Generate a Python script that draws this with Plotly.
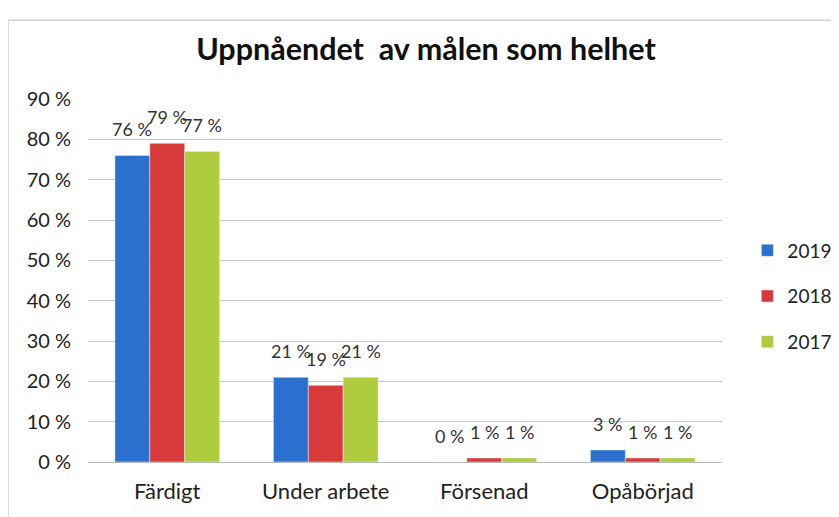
import plotly.graph_objects as go

categories = ["Färdigt", "Under arbete", "Försenad", "Opåbörjad"]
series_names = ["2019", "2018", "2017"]
values_2019 = [76, 21, 0, 3]
values_2018 = [79, 19, 1, 1]
values_2017 = [77, 21, 1, 1]
colors = ["#2b6fcf", "#d83a3c", "#afcb3e"]
y_ticks = [0, 10, 20, 30, 40, 50, 60, 70, 80, 90]
y_tick_labels = [f"{v} %" for v in y_ticks]

FONT = "Lato, 'Open Sans', sans-serif"
BAR_OFFSETS_PX = [-35, 0, 35]  # horizontal shift of labels for grouped bars

fig = go.Figure()
all_values = [values_2019, values_2018, values_2017]
for name, vals, col in zip(series_names, all_values, colors):
    fig.add_trace(go.Bar(
        x=categories, y=vals, name=name, marker_color=col, legendgroup=name,
    ))

for vals, dx in zip(all_values, BAR_OFFSETS_PX):
    for cat, v in zip(categories, vals):
        fig.add_annotation(x=cat, y=v, text=f"{v} %", showarrow=False,
                           xshift=dx, yshift=13, yanchor="bottom",
                           font=dict(size=18, color="#333333", family=FONT))

fig.update_layout(
    width=831, height=509,
    margin=dict(l=80, r=117, t=91, b=55, autoexpand=False),
    paper_bgcolor="white", plot_bgcolor="white",
    barmode="group", bargap=0.34, bargroupgap=0,
    title=dict(text="<b>Uppnåendet  av målen som helhet</b>", x=0.503, xanchor="center",
               y=0.918, yanchor="middle", font=dict(size=30.5, family=FONT, color="#111111")),
    font=dict(family=FONT, size=18, color="#222222"),
    legend=dict(x=1.04, y=0.456, xanchor="left", yanchor="middle",
                font=dict(size=19, family=FONT, color="#222222"),
                itemwidth=30, tracegroupgap=18),
)
fig.update_yaxes(range=[0, 90], tickvals=y_ticks, ticktext=y_tick_labels,
                 showgrid=True, gridcolor="#c4c4c4", gridwidth=1.3,
                 zeroline=True, zerolinecolor="#b8b8b8", zerolinewidth=1.3,
                 ticks="", ticklabelstandoff=16, tickfont=dict(size=20), automargin=False)
fig.update_xaxes(showline=False, ticks="", tickfont=dict(size=22), ticklabelstandoff=14,
                 automargin=False)

fig.add_shape(type="rect", xref="paper", yref="paper",
              x0=-0.126, x1=1.3, y0=-0.2, y1=1.217,
              line=dict(color="#d4d4d4", width=1.5), fillcolor="rgba(0,0,0,0)", layer="below")

fig.write_html("out.html")
